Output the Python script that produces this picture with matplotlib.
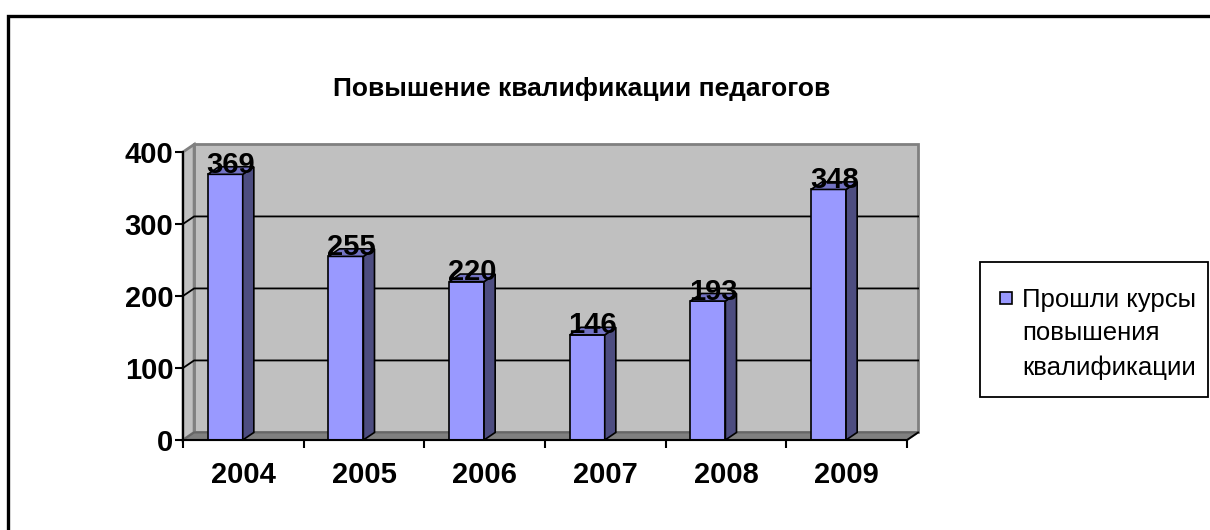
import matplotlib
matplotlib.use("Agg")
import matplotlib.pyplot as plt
from matplotlib.patches import Polygon, Rectangle

# ----- data -----
years = ["2004", "2005", "2006", "2007", "2008", "2009"]
counts = [369, 255, 220, 146, 193, 348]
y_ticks = [0, 100, 200, 300, 400]
title = "Повышение квалификации педагогов"
series_label = "Прошли курсы\nповышения\nквалификации"

W, H = 1210, 530
FRONT = "#9999ff"
SIDE = "#4d4d80"
TOP = "#7373c4"
WALL = "#c0c0c0"
FLOOR = "#808080"
EDGE = "#808080"

plt.rcParams["font.family"] = ["Liberation Sans", "DejaVu Sans"]

fig = plt.figure(figsize=(W / 100, H / 100), dpi=100)
ax = fig.add_axes([183 / W, 1 - 440 / H, (907 - 183) / W, (440 - 152) / H])
ax.set_xlim(-0.5, len(years) - 0.5)
ax.set_ylim(0, 400)
ax.patch.set_visible(False)

# 3D depth offset (in data units)
DX, DY = 0.092, 10.5
x0, x1 = -0.5, len(years) - 0.5

# back wall, side wall, floor
ax.add_patch(Polygon([(x0 + DX, DY), (x1 + DX, DY), (x1 + DX, 400 + DY), (x0 + DX, 400 + DY)],
                     closed=True, fc=WALL, ec=EDGE, lw=2, zorder=0.5, clip_on=False))
ax.add_patch(Polygon([(x0, 0), (x0 + DX, DY), (x0 + DX, 400 + DY), (x0, 400)],
                     closed=True, fc=WALL, ec=EDGE, lw=2, zorder=0.55, clip_on=False))
for t in y_ticks[1:-1]:
    ax.plot([x0, x0 + DX, x1 + DX], [t, t + DY, t + DY], color="black", lw=1.3,
            zorder=0.6, clip_on=False)
ax.add_patch(Polygon([(x0, 0), (x1, 0), (x1 + DX, DY), (x0 + DX, DY)],
                     closed=True, fc=FLOOR, ec="#666666", lw=1.5, zorder=0.7, clip_on=False))
ax.plot([x1, x1 + DX], [0, DY], color="black", lw=1.3, zorder=0.8, clip_on=False)

# bars: front face + side + top
xs = list(range(len(years)))
BW = 0.29
centers = [x - 0.15 for x in xs]
ax.bar(centers, counts, width=BW, color=FRONT, edgecolor="black", lw=1.2, zorder=2)
for c, v in zip(centers, counts):
    xl, xr = c - BW / 2, c + BW / 2
    ax.add_patch(Polygon([(xr, 0), (xr + DX, DY), (xr + DX, v + DY), (xr, v)],
                         closed=True, fc=SIDE, ec="black", lw=1.2, zorder=2))
    ax.add_patch(Polygon([(xl, v), (xr, v), (xr + DX, v + DY), (xl + DX, v + DY)],
                         closed=True, fc=TOP, ec="black", lw=1.2, zorder=2, clip_on=False))
    ax.text((xl + xr + DX) / 2, v + 2, str(v), ha="center", va="baseline",
            fontsize=21, fontweight="bold", zorder=3, clip_on=False)

# axes
for s in ("top", "right"):
    ax.spines[s].set_visible(False)
for s in ("left", "bottom"):
    ax.spines[s].set_color("black")
    ax.spines[s].set_linewidth(1.5)
ax.set_yticks(y_ticks)
ax.set_yticklabels([str(t) for t in y_ticks], fontsize=21, fontweight="bold")
ax.set_xticks(xs)
ax.set_xticklabels(years, fontsize=21, fontweight="bold")
ax.set_xticks([x - 0.5 for x in xs] + [x1], minor=True)
ax.tick_params(axis="y", direction="out", length=6, width=1.5, pad=1)
ax.tick_params(axis="x", which="major", length=0, pad=15)
ax.tick_params(axis="x", which="minor", direction="out", length=6, width=1.5)

fig.text(582 / W, 1 - 89 / H, title, ha="center", va="center",
         fontsize=19, fontweight="bold")

# legend (drawn by hand to keep Excel's look)
fig.patches.append(Rectangle((980 / W, 1 - 397 / H), 228 / W, 135 / H,
                             transform=fig.transFigure, fc="white", ec="black", lw=1.3))
fig.patches.append(Rectangle((1000 / W, 1 - 304 / H), 12 / W, 12 / H,
                             transform=fig.transFigure, fc=FRONT, ec="black", lw=1.2))
fig.text(1022 / W, 1 - 288 / H, series_label, ha="left", va="top",
         fontsize=18.5, linespacing=1.5)

# outer chart frame
fig.patches.append(Rectangle((8 / W, -0.05), 1.1, 1 - 16 / H + 0.05,
                             transform=fig.transFigure, fill=False, ec="black", lw=2.4))

fig.savefig("out.png", dpi=100)
